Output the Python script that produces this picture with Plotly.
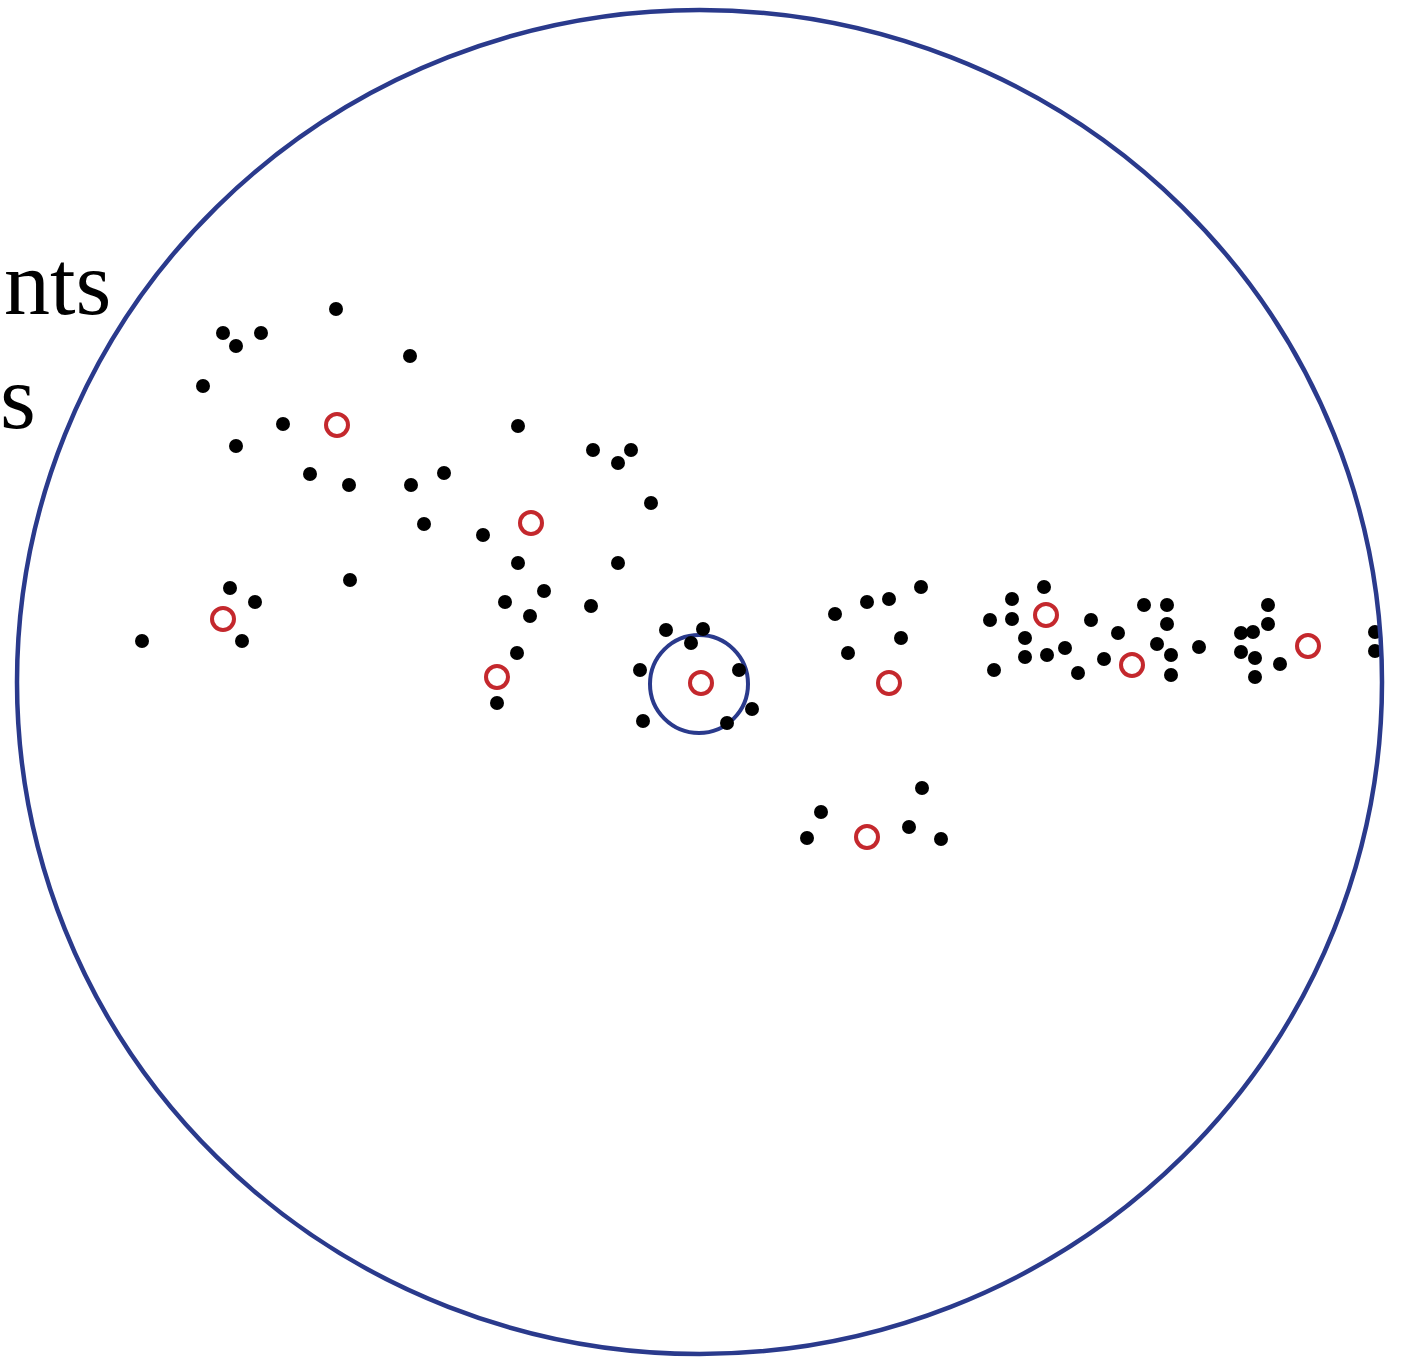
import plotly.graph_objects as go

# Data points (disk coordinates, centre of disk at 0,0)
points_x = [-364, -477, -439, -464, -290, -497, -417, -464, -182, -390, -351, -289, -256, -276, -217,
            -107, -69, -82, -49, -182, -82, -350, -470, -445, -195, -156, -170, -109, -558, -458,
            -183, -203, -34, 3, -9, -60, 39, -57, 27, 52, 135, 167, 189, 221, 201, 148,
            290, 312, 312, 344, 325, 325, 347, 365, 294, 378, 391, 404, 418, 444, 467, 467,
            457, 471, 471, 499, 541, 553, 568, 568, 541, 555, 555, 580, 675, 675,
            121, 107, 222, 209, 241]
points_y = [373, 349, 349, 336, 326, 296, 258, 236, 256, 208, 197, 197, 209, 158, 147,
            232, 232, 219, 179, 119, 119, 102, 94, 80, 80, 91, 66, 76, 41, 41,
            29, -21, 52, 53, 39, 12, 12, -39, -41, -27, 68, 80, 83, 95, 44, 29,
            62, 83, 63, 95, 44, 25, 27, 34, 12, 9, 62, 23, 49, 77, 77, 58,
            38, 27, 7, 35, 49, 50, 77, 58, 30, 24, 5, 18, 50, 31,
            -130, -156, -106, -145, -157]

# Centroids
cent_x = [-363, -169, -477, -203, 1, 189, 346, 432, 608, 167]
cent_y = [257, 159, 63, 5, -1, -1, 67, 17, 36, -155]

# Boundary disk and highlighted ball
disk_r_x = 682.5
disk_r_y = 672
disk_cx = -0.5
disk_cy = 0
ball_cx = -1
ball_cy = -2
ball_r = 49

# Legend text fragments visible at the left edge
legend_labels = ["nts", "s"]

BLUE = "#2a3a8c"
RED = "#c4282d"

fig = go.Figure()
fig.add_trace(go.Scatter(x=points_x, y=points_y, mode="markers",
                         marker=dict(size=14, color="black"),
                         showlegend=False, hoverinfo="skip"))
fig.add_trace(go.Scatter(x=cent_x, y=cent_y, mode="markers",
                         marker=dict(size=22, symbol="circle-open", color=RED,
                                     line=dict(width=4, color=RED)),
                         showlegend=False, hoverinfo="skip"))

fig.add_shape(type="circle", xref="x", yref="y",
              x0=disk_cx - disk_r_x, x1=disk_cx + disk_r_x,
              y0=disk_cy - disk_r_y, y1=disk_cy + disk_r_y,
              line=dict(color=BLUE, width=4.5), layer="above")
fig.add_shape(type="circle", xref="x", yref="y",
              x0=ball_cx - ball_r, x1=ball_cx + ball_r,
              y0=ball_cy - ball_r, y1=ball_cy + ball_r,
              line=dict(color=BLUE, width=4), layer="between")

font = dict(family="Liberation Serif, Times New Roman, serif", size=92, color="black")
fig.add_annotation(x=-587, y=399, xref="x", yref="y", text=legend_labels[0],
                   xanchor="right", yanchor="middle", showarrow=False, font=font)
fig.add_annotation(x=-662, y=285, xref="x", yref="y", text=legend_labels[1],
                   xanchor="right", yanchor="middle", showarrow=False, font=font)

fig.update_layout(width=1404, height=1360, margin=dict(l=0, r=0, t=0, b=0),
                  paper_bgcolor="white", plot_bgcolor="white", showlegend=False)
fig.update_xaxes(range=[-700, 704], visible=False, fixedrange=True)
fig.update_yaxes(range=[-678, 682], visible=False, fixedrange=True)

fig.write_html("out.html", config={"displayModeBar": False},
               post_script="document.body.style.margin='0';")
